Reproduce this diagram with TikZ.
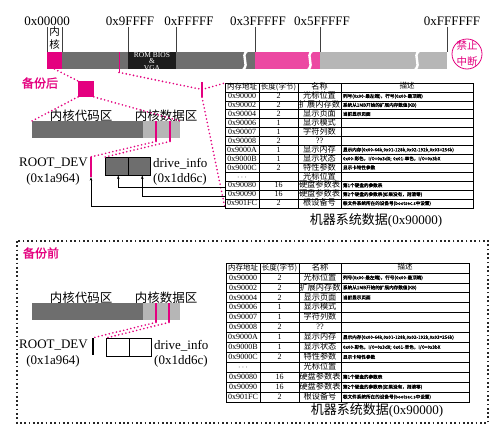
\documentclass[tikz,border=0pt]{standalone}
\usepackage{fontspec}
\setmainfont{Liberation Serif}
\newfontfamily\cjk{Noto Sans CJK SC}
\newfontfamily\cjkb{Noto Sans CJK SC}[FakeBold=1.5]
\usetikzlibrary{arrows.meta}
\definecolor{pk}{RGB}{228,0,127}
\definecolor{pkl}{RGB}{236,72,162}
\definecolor{dg}{RGB}{110,110,110}
\definecolor{lg}{RGB}{182,182,182}
\definecolor{bk}{RGB}{28,28,28}
\tikzset{
  pdot/.style={draw=pk, line width=1.8pt, dash pattern=on 0pt off 3.7pt, line cap=round},
  kdot/.style={draw=black!85, line width=1.7pt, dash pattern=on 1.7pt off 2.6pt},
  tickl/.style={draw=black!75, line width=0.5pt},
  seg/.style={anchor=north west, inner sep=0pt, outer sep=0pt, minimum height=17pt, draw=none},
  wave/.style={draw=white, line width=2.4pt},
  toplab/.style={inner sep=0pt, font=\fontsize{13}{13}\selectfont},
  biglab/.style={inner sep=0pt, font=\fontsize{13}{13}\selectfont},
  zhlab/.style={inner sep=0pt, font=\cjk\fontsize{12.5}{12.5}\selectfont},
  pinkhead/.style={inner sep=0pt, text=pk, font=\cjkb\fontsize{12}{12}\selectfont},
  cell/.style={draw, line width=0.6pt, inner sep=0pt, outer sep=0pt, text height=5.8pt, text depth=1.2pt, font=\fontsize{8}{9}\selectfont},
  namef/.style={font=\cjk\fontsize{8.2}{9}\selectfont},
  descf/.style={font=\cjkb\fontsize{4.6}{5}\selectfont, text height=3.6pt, text depth=0.8pt},
  arr/.style={draw=black, line width=0.5pt, -{Stealth[length=3.5pt,width=2.6pt]}},
}
\newcommand\hd{\cjk\fontsize{7.5}{8}\selectfont}
\newcommand\tabrow[6][left]{%
  \pgfmathsetmacro\yc{\tbT+(#2+0.5)*\tbH}%
  \node[cell, minimum width=\wA pt, minimum height=\tbH pt] (\tbP-#2-1) at ({(\xA+\xB)/2},\yc) {#3};%
  \node[cell, minimum width=\wB pt, minimum height=\tbH pt] (\tbP-#2-2) at ({(\xB+\xC)/2},\yc) {#4};%
  \node[cell, namef, minimum width=\wC pt, minimum height=\tbH pt] (\tbP-#2-3) at ({(\xC+\xD)/2},\yc) {#5};%
  \node[cell, descf, text width=\wDt pt, inner xsep=2pt, align=#1, minimum height=\tbH pt] (\tbP-#2-4) at ({(\xD+\xE)/2},\yc) {#6};%
}
\newcommand\memtable[8]{%
  \def\tbP{#1}\def\tbT{#2}\def\tbH{#3}%
  \def\xA{#4}\def\xB{#5}\def\xC{#6}\def\xD{#7}\def\xE{#8}%
  \pgfmathsetmacro\wA{#5-#4}\pgfmathsetmacro\wB{#6-#5}\pgfmathsetmacro\wC{#7-#6}\pgfmathsetmacro\wDt{#8-#7-4}%
  \tabrow[center]{0}{\hd 内存地址}{\hd 长度(字节)}{名称}{\cjk\fontsize{7.5}{8}\selectfont 描述}%
  \tabrow{1}{0x90000}{2}{光标位置}{列号(0x00-最左端)，行号(0x00-最顶端)}%
  \tabrow{2}{0x90002}{2}{扩展内存数}{系统从1MB开始的扩展内存数值(KB)}%
  \tabrow{3}{0x90004}{2}{显示页面}{当前显示页面}%
  \tabrow{4}{0x90006}{1}{显示模式}{}%
  \tabrow{5}{0x90007}{1}{字符列数}{}%
  \tabrow{6}{0x90008}{2}{\rmfamily ??}{}%
  \tabrow{7}{0x9000A}{1}{显示内存}{显示内存(0x00-64k,0x01-128k,0x02-192k,0x03=256k)}%
  \tabrow{8}{0x9000B}{1}{显示状态}{0x00-彩色，I/O=0x3dX; 0x01-单色，I/O=0x3bX}%
  \tabrow{9}{0x9000C}{2}{特性参数}{显示卡特性参数}%
  \tabrow{10}{$\cdots$}{}{光标位置}{}%
  \tabrow{11}{0x90080}{16}{硬盘参数表}{第1个硬盘的参数表}%
  \tabrow{12}{0x90090}{16}{硬盘参数表}{第2个硬盘的参数表(如果没有，则清零)}%
  \tabrow{13}{0x901FC}{2}{根设备号}{根文件系统所在的设备号(bootsec.s中设置)}%
  \draw[line width=1pt] (\tbP-0-4.north west) -- (\tbP-13-4.south west);%
}
\begin{document}
\begin{tikzpicture}[x=1pt,y=-1pt]
\useasboundingbox (0,0) rectangle (502,436);
\fill[white] (0,0) rectangle (502,436);

% ---------- top memory bar ----------
\node[seg, fill=pk, minimum width=15pt] (kern) at (47,52) {};
\node[seg, fill=dg, minimum width=193pt] (low) at (62,52) {};
\node[seg, fill=bk, minimum width=48pt] (rom) at (128,52) {};
\node[seg, fill=pkl, minimum width=65pt] (buf) at (255,52) {};
\node[seg, fill=lg, minimum width=127pt] (high) at (320,52) {};
\node[inner sep=0pt, text=white, align=center, font=\fontsize{7.5}{6.3}\selectfont] (romt) at (152,61.5) {ROM BIOS\\\&\\VGA};
\draw[wave] (247,51) .. controls (240,57) and (250,63) .. (243,70);
\draw[wave] (312,51) .. controls (305,57) and (315,63) .. (308,70);
\draw[wave] (419,51) .. controls (412,57) and (422,63) .. (415,70);
\node[fill=pk, minimum width=1pt, minimum height=20pt, inner sep=0pt, anchor=north] (m1) at (119,52) {};

\foreach \x in {47,62,128,176,255,320,447} \draw[tickl] (\x,27) -- (\x,52);
\node[toplab] (a0) at (47,21) {0x00000};
\node[toplab] (a1) at (130,21) {0x9FFFF};
\node[toplab] (a2) at (189,21) {0xFFFFF};
\node[toplab] (a3) at (258,21) {0x3FFFFF};
\node[toplab] (a4) at (322,21) {0x5FFFFF};
\node[toplab] (a5) at (452,21) {0xFFFFFF};
\node[inner sep=0pt, font=\cjk\fontsize{10.5}{10.5}\selectfont] (nh1) at (54.5,32) {内};
\node[inner sep=0pt, font=\cjk\fontsize{10.5}{10.5}\selectfont] (nh2) at (54.5,44.5) {核};
\node[circle, draw=pk, line width=0.8pt, minimum size=30pt, inner sep=0pt] (stop) at (467,54) {};
\node[inner sep=0pt, text=pk, font=\cjk\fontsize{10.5}{10.5}\selectfont] (st1) at (467,46) {禁止};
\node[inner sep=0pt, text=pk, font=\cjk\fontsize{10.5}{10.5}\selectfont] (st2) at (467,62) {中断};

% ---------- after backup ----------
\node[pinkhead] (hafter) at (40,83) {备份后};
\node[fill=pk, minimum size=15.5pt, inner sep=0pt, anchor=north west] (sq) at (78,81) {};
\node[zhlab] (code1l) at (81,115.5) {内核代码区};
\node[zhlab] (data1l) at (166,115.5) {内核数据区};
\node[seg, fill=dg, minimum width=111pt] (code1) at (32,121) {};
\node[seg, fill=lg, minimum width=37pt] (data1) at (143,121) {};
\node[fill=pk, minimum width=1.1pt, minimum height=20pt, inner sep=0pt, anchor=north] (p11) at (156,121) {};
\node[fill=pk, minimum width=1.1pt, minimum height=20pt, inner sep=0pt, anchor=north] (p12) at (170,121) {};
\node[fill=pk, minimum width=2.6pt, minimum height=20pt, inner sep=0pt] (rd1) at (91,167) {};
\node[draw, line width=0.5pt, fill=dg, minimum width=23pt, minimum height=18pt, inner sep=0pt, anchor=north west] (dA1) at (105,157) {};
\node[draw, line width=0.5pt, fill=dg, minimum width=22pt, minimum height=18pt, inner sep=0pt, anchor=north west] (dB1) at (128,157) {};
\node[biglab, anchor=east] (rdl1) at (88,163.5) {ROOT\_DEV};
\node[biglab] (rda1) at (53,179.5) {(0x1a964)};
\node[biglab, anchor=west] (dil1) at (153,163.5) {drive\_info};
\node[biglab, anchor=west] (dia1) at (153,179.5) {(0x1dd6c)};
\node[fill=pk, minimum width=1.2pt, minimum height=15pt, inner sep=0pt] (mk) at (202,89.5) {};

\memtable{U}{83}{8.93}{225}{259}{298}{341}{473}
\node[inner sep=0pt, font=\fontsize{13}{13}\selectfont] (cap1) at (376,220.5) {{\cjk 机器系统数据}(0x90000)};

\draw[pdot] (kern.south) -- (sq.north west);
\draw[pdot] (sq.south west) -- (code1.north west);
\draw[pdot] (sq.south east) -- (data1.north east);
\draw[pdot] (m1.south) -- (mk.center);
\draw[pdot] (mk.center) -- (U-0-1.north west);
\draw[pdot] (mk.south) -- (U-13-1.south west);
\draw[pdot] (p11.south) -- (rd1.north);
\draw[pdot] (p12.south) -- (dA1.north west);

\draw[arr] ([yshift=-1.8pt]U-11-1.west) -| ([xshift=1.5pt]dA1.south);
\draw[arr] ([yshift=-2pt]U-12-1.west) -| ([xshift=3pt]dB1.south);
\draw[arr] ([yshift=-2.5pt]U-13-1.west) -| (rd1.south);

% ---------- before backup ----------
\draw[kdot] (17,241) rectangle (488,423);
\node[pinkhead] (hbefore) at (41,253) {备份前};
\node[zhlab] (code2l) at (81,297.5) {内核代码区};
\node[zhlab] (data2l) at (166,297.5) {内核数据区};
\node[seg, fill=dg, minimum width=111pt] (code2) at (32,303) {};
\node[seg, fill=lg, minimum width=37pt] (data2) at (143,303) {};
\node[fill=pk, minimum width=1.1pt, minimum height=19pt, inner sep=0pt, anchor=north] (p21) at (156,303) {};
\node[fill=pk, minimum width=1.1pt, minimum height=19pt, inner sep=0pt, anchor=north] (p22) at (169,303) {};
\node[fill=black, minimum width=2.2pt, minimum height=17pt, inner sep=0pt] (rd2) at (93,346.5) {};
\node[draw, line width=0.6pt, fill=white, minimum width=23pt, minimum height=18pt, inner sep=0pt, anchor=north west] (dA2) at (106,338) {};
\node[draw, line width=0.6pt, fill=white, minimum width=22pt, minimum height=18pt, inner sep=0pt, anchor=north west] (dB2) at (129,338) {};
\node[biglab, anchor=east] (rdl2) at (88,345.5) {ROOT\_DEV};
\node[biglab] (rda2) at (53,361) {(0x1a964)};
\node[biglab, anchor=west] (dil2) at (154,345.5) {drive\_info};
\node[biglab, anchor=west] (dia2) at (154,361) {(0x1dd6c)};
\draw[pdot] (p21.south) -- (rd2.north);
\draw[pdot] (p22.south) -- (dA2.north west);

\memtable{L}{263}{9.93}{226}{260}{299}{341}{469}
\node[inner sep=0pt, font=\fontsize{13}{13}\selectfont] (cap2) at (377,410.5) {{\cjk 机器系统数据}(0x90000)};
\end{tikzpicture}
\end{document}
